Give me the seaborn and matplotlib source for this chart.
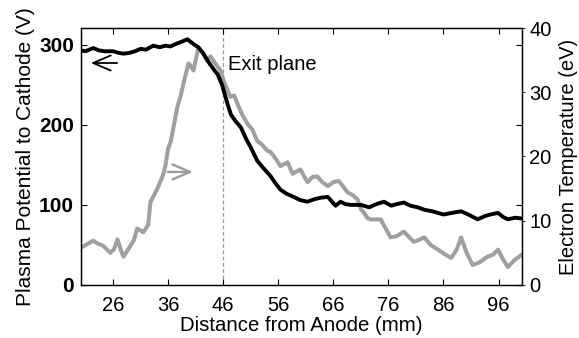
import matplotlib
matplotlib.use("Agg")
import matplotlib.pyplot as plt
import seaborn as sns

sns.set_style("ticks")
plt.rcParams['font.family'] = ['Liberation Sans', 'DejaVu Sans']
plt.rcParams['text.color'] = 'black'
plt.rcParams['axes.labelcolor'] = 'black'

# plasma potential (left axis, V)
pot_x = [20.2, 21, 22.4, 23.5, 24.5, 26, 27, 27.9, 29, 30, 31, 32, 33.3, 34.5, 35.5,
         36.4, 37.7, 38.5, 39.5, 40.6, 41.5, 42.3, 43.2, 44, 45, 45.8, 46.8, 47.4,
         48.2, 49.2, 50.2, 51, 52.2, 53.3, 54.6, 55.5, 56.4, 57.5, 58.8, 60, 61.3,
         62.5, 63.7, 65, 66.4, 67.3, 68.2, 69.2, 71, 72.5, 73.8, 75.2, 76.5, 77.5,
         78.8, 80, 81.3, 82.5, 84, 85, 86, 87.5, 89.2, 90.5, 92.2, 93.5, 94.5, 95.9,
         96.8, 97.7, 99, 100.2]
pot_v = [293, 292, 296, 293, 292, 292, 290, 289, 290, 292, 295, 294, 299, 297, 299,
         298, 302, 304, 307, 301, 297, 290, 280, 272, 263, 250, 226, 213,
         205, 197, 182, 172, 155, 146, 136, 127, 119, 114, 110, 106, 104,
         107, 109, 110, 99, 104, 101, 100, 100, 97, 101, 104, 99, 101,
         103, 99, 97, 94, 92, 90, 88, 90, 92, 88, 82, 86, 88, 90,
         85, 82, 84, 83]

# electron temperature (right axis, eV)
te_x = [20.2, 21.2, 22.4, 23.3, 24.2, 25.5, 26.2, 26.8, 27.4, 27.9, 28.5, 29.1, 29.8,
        30.4, 31.5, 32.4, 32.8, 34, 35, 35.5, 36, 36.5, 37.7, 38.3, 38.8, 39.7, 40.2,
        40.6, 41.5, 42.4, 43.1, 43.7, 44.3, 45, 45.5, 46.2, 46.8, 47.3, 48, 48.6,
        49.4, 50.4, 51.3, 52.2, 53, 54, 54.6, 55.5, 56.4, 57.7, 58.6, 60, 61.3, 62.2,
        63.1, 64, 65, 66, 67, 68.6, 69.5, 70.4, 71, 71.5, 72.2, 72.8, 74.6, 75.5,
        76.4, 77.5, 78.8, 79.7, 80.6, 81.5, 82.5, 83.7, 85, 86.2, 87.4, 88.4, 89.2,
        90.2, 91.3, 92.5, 94, 95, 95.9, 96.8, 97.7, 98.8, 100.2]
te_ev = [5.8, 6.3, 6.9, 6.4, 6.1, 5.0, 5.6, 7.1, 5.5, 4.4, 5.2, 6.0, 7.0,
         8.8, 8.2, 9.4, 12.9, 14.9, 16.9, 18.5, 21.2, 22.4, 27.8, 29.5, 31.4, 34.5, 34.0,
         33.4, 36.9, 36.1, 35.0, 35.6, 34.8, 34.0, 33.4, 31.5, 30.3, 29.3, 29.5, 28.2,
         26.6, 25.1, 24.2, 22.4, 21.9, 20.9, 20.7, 19.7, 18.5, 19.1, 17.3, 18.0, 16.0, 16.8,
         16.9, 16.0, 15.4, 16.0, 16.2, 14.4, 14.0, 13.3, 11.8, 11.3, 10.4, 10.2, 10.2, 8.8,
         7.4, 7.6, 8.3, 7.5, 6.7, 7.0, 7.4, 6.2, 5.5, 4.8, 4.2, 5.5, 7.4,
         5.0, 3.1, 3.5, 4.4, 4.7, 5.5, 4.0, 2.8, 3.8, 4.7]

x_ticks = [26, 36, 46, 56, 66, 76, 86, 96]
v_ticks = [0, 100, 200, 300]
t_ticks = [0, 10, 20, 30, 40]
exit_plane = 46

fig = plt.figure(figsize=(5.79, 3.38), dpi=100)
ax = fig.add_axes([0.14, 0.157, 0.762, 0.76])
ax2 = ax.twinx()

sns.lineplot(x=te_x, y=te_ev, ax=ax2, color='#a0a0a0', lw=2.9, sort=False, estimator=None)
sns.lineplot(x=pot_x, y=pot_v, ax=ax, color='black', lw=2.8, sort=False, estimator=None)
ax.set_zorder(ax2.get_zorder() + 1)
ax.patch.set_visible(False)

ax.axvline(exit_plane, color='#999999', lw=0.9, ls=(0, (3, 2)), zorder=0)
ax.text(exit_plane + 0.9, 275, "Exit plane", fontsize=14.5, va='center', ha='left')

ax.set_xlim(20.2, 100.3)
ax.set_ylim(0, 321)
ax2.set_ylim(0, 40)
ax.set_xticks(x_ticks)
ax.set_yticks(v_ticks)
ax2.set_yticks(t_ticks)

ax.tick_params(axis='both', direction='in', length=4, width=0.8,
               top=True, right=True, colors='black')
ax.tick_params(axis='x', labelsize=14.5, pad=8)
ax.tick_params(axis='y', labelsize=15, pad=5)
ax2.tick_params(axis='y', direction='out', length=2, width=0.6,
                labelsize=14.5, colors='black', pad=3)
for lab in ax.get_yticklabels():
    lab.set_fontweight('bold')

for a in (ax, ax2):
    for s in a.spines.values():
        s.set_color('black')
        s.set_linewidth(0.9)

ax.set_xlabel("Distance from Anode (mm)", fontsize=14.7, labelpad=1)
ax.set_ylabel("Plasma Potential to Cathode (V)", fontsize=15, labelpad=3)
ax2.set_ylabel("Electron Temperature (eV)", fontsize=14.5, labelpad=5)

# direction arrows
ax.annotate("", xy=(0.016, 0.864), xytext=(0.088, 0.864), xycoords='axes fraction',
            arrowprops=dict(arrowstyle='->,head_length=0.7,head_width=0.3',
                            color='black', lw=1.3, mutation_scale=18))
ax.annotate("", xy=(0.26, 0.44), xytext=(0.19, 0.44), xycoords='axes fraction',
            arrowprops=dict(arrowstyle='->,head_length=0.7,head_width=0.3',
                            color='#9c9c9c', lw=1.7, mutation_scale=18))

fig.savefig("out.png", dpi=100)
